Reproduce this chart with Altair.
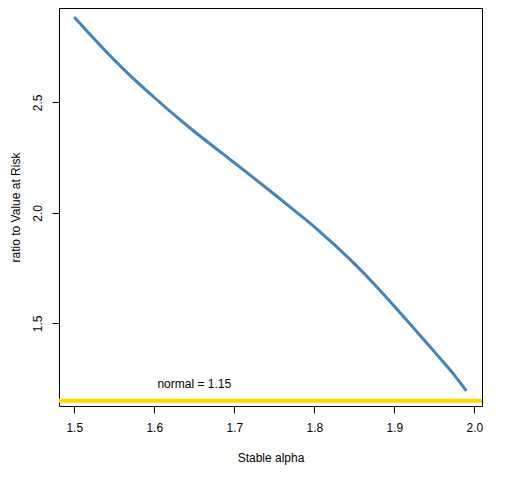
import altair as alt
import pandas as pd

# Stable alpha values and ratio to Value at Risk
alpha = [1.500, 1.525, 1.550, 1.575, 1.600, 1.625, 1.650, 1.675, 1.700, 1.725,
         1.750, 1.775, 1.800, 1.825, 1.850, 1.875, 1.900, 1.925, 1.950, 1.975, 1.990]
ratio = [2.886, 2.787, 2.692, 2.604, 2.522, 2.443, 2.368, 2.297, 2.227, 2.156,
         2.084, 2.011, 1.937, 1.856, 1.770, 1.677, 1.577, 1.475, 1.372, 1.266, 1.195]

normal_level = [1.15]
label_text = ["normal = 1.15"]
label_x = [1.65]
label_y = [1.225]

x_ticks = [1.5, 1.6, 1.7, 1.8, 1.9, 2.0]
y_ticks = [1.5, 2.0, 2.5]
x_domain = [1.4809, 2.0096]
y_domain = [1.126, 2.927]

FONT = "Liberation Sans"

curve_df = pd.DataFrame({"alpha": alpha, "ratio": ratio})
normal_df = pd.DataFrame({"level": normal_level})
label_df = pd.DataFrame({"x": label_x, "y": label_y, "text": label_text})

x_scale = alt.Scale(domain=x_domain, nice=False, zero=False)
y_scale = alt.Scale(domain=y_domain, nice=False, zero=False)

x_axis = alt.Axis(values=x_ticks, format=".1f", title="Stable alpha", grid=False,
                  domain=False, tickColor="black", tickSize=7, labelPadding=9,
                  labelFontSize=12, labelFont=FONT, labelColor="black",
                  titleFont=FONT, titleFontSize=12, titleFontWeight="normal",
                  titleColor="black", titlePadding=19, labelFlush=False)
y_axis = alt.Axis(values=y_ticks, format=".1f", title="ratio to Value at Risk", grid=False,
                  domain=False, tickColor="black", tickSize=7, labelPadding=8,
                  labelAngle=270, labelAlign="center", labelBaseline="bottom",
                  labelFontSize=12, labelFont=FONT, labelColor="black",
                  titleFont=FONT, titleFontSize=12, titleFontWeight="normal",
                  titleColor="black", titlePadding=9, labelFlush=False)

curve = alt.Chart(curve_df).mark_line(color="#4682B4", strokeWidth=3,
                                      interpolate="monotone").encode(
    x=alt.X("alpha:Q", scale=x_scale, axis=x_axis),
    y=alt.Y("ratio:Q", scale=y_scale, axis=y_axis),
)

normal_line = alt.Chart(normal_df).mark_rule(color="#FFD700", strokeWidth=4).encode(
    y=alt.Y("level:Q", scale=y_scale)
)

label = alt.Chart(label_df).mark_text(font=FONT, fontSize=12, color="black",
                                      align="center", baseline="middle").encode(
    x=alt.X("x:Q", scale=x_scale),
    y=alt.Y("y:Q", scale=y_scale),
    text="text:N",
)

chart = alt.layer(normal_line, curve, label).properties(
    width=423, height=398,
    autosize=alt.AutoSizeParams(type="none"),
    padding={"left": 51, "top": 0, "right": 20, "bottom": 66},
    background="white",
).configure_view(stroke="black", strokeWidth=1)

chart.save("out.html", embed_options={"renderer": "svg", "actions": False})
